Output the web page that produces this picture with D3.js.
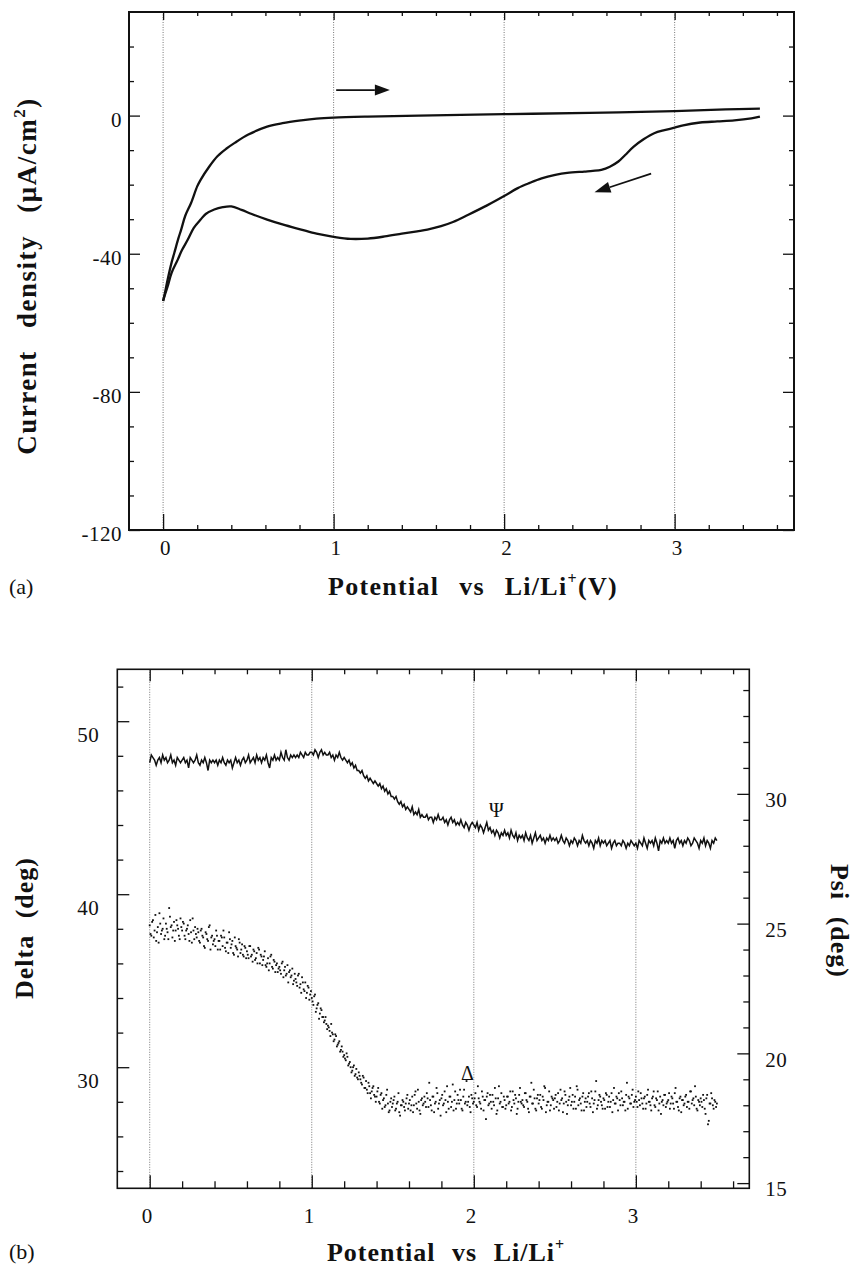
<!DOCTYPE html>
<html><head><meta charset="utf-8">
<script src="https://cdn.jsdelivr.net/npm/d3@7"></script>
<style>
body{margin:0;background:#fff}
svg{display:block}
text{font-family:"Liberation Serif","Times New Roman",Times,serif;fill:#111}
.lab{font-weight:bold;font-size:26px;letter-spacing:1px;word-spacing:9px}
.labY{font-weight:bold;font-size:27px;letter-spacing:1.5px;word-spacing:14px}
.labX{font-weight:bold;font-size:26px;letter-spacing:1.3px;word-spacing:12px}
.tk text{font-size:21px;letter-spacing:0.5px}
.pl{font-size:22px}
</style></head><body>
<svg id="c" width="855" height="1267"></svg>
<script>
// ---------- DATA ----------
// (a) cyclic voltammogram
const cvFwdV = [0,0.01,0.027,0.05,0.066,0.09,0.106,0.13,0.164,0.2,0.22,0.27,0.32,0.37,0.42,0.5,0.61,0.7,0.81,0.9,1.0,1.2,1.5,2.0,2.5,3.0,3.3,3.5];
const cvFwdI = [-53.7,-51.5,-47.4,-42.5,-39.7,-35.5,-33,-29,-25.3,-20.5,-18.6,-14.8,-11.7,-9.6,-7.9,-5.5,-3.2,-2.2,-1.4,-0.9,-0.6,-0.3,0,0.4,0.8,1.3,1.8,2.0];
const cvRevV = [3.5,3.45,3.35,3.25,3.15,3.05,3.0,2.94,2.88,2.82,2.76,2.71,2.67,2.62,2.57,2.52,2.47,2.37,2.3,2.22,2.15,2.08,2.0,1.9,1.79,1.7,1.63,1.55,1.49,1.4,1.3,1.2,1.1,1.0,0.9,0.81,0.7,0.61,0.52,0.46,0.4,0.35,0.3,0.25,0.22,0.18,0.145,0.11,0.086,0.05,0.027,0.01,0];
const cvRevI = [-0.3,-0.8,-1.4,-1.7,-2.0,-2.8,-3.5,-4.2,-5.1,-6.8,-9,-11.4,-13.3,-14.8,-15.7,-16,-16.2,-16.6,-17.2,-18.2,-19.5,-21,-23.3,-26,-28.7,-30.8,-32,-33,-33.5,-34.2,-35,-35.6,-35.7,-35.1,-34.2,-33,-31.5,-30.1,-28.5,-27.3,-26.3,-26.5,-27.2,-28.5,-30.1,-32.5,-35.9,-39,-41.7,-45.5,-49.4,-52,-53.7];
const topXTicks = [0,1,2,3];
const topXMinor = [0.2,0.4,0.6,0.8,1.2,1.4,1.6,1.8,2.2,2.4,2.6,2.8,3.2,3.4,3.6];
const topYTicks = [0,-40,-80,-120];
const topYMinor = [-110,-100,-90,-70,-60,-50,-30,-20,-10,10,20];
// (b) ellipsometry, readings every 0.01 V from 0 to 3.5 V
const psiValues = [
31.2,31.5,31.4,31.3,31.1,31.3,31.4,31.2,31.5,31.3,
31.4,31.2,31.3,31.5,31.2,31.3,31.1,31.4,31.3,31.2,
31.3,31.4,31.2,31.3,31.0,31.4,31.3,31.2,31.3,31.5,
31.2,31.1,31.3,31.2,31.4,31.2,30.9,31.3,31.2,31.3,
31.2,31.3,31.1,31.3,31.2,31.4,31.2,31.1,31.3,31.2,
31.3,31.0,31.2,31.4,31.2,31.3,31.1,31.3,31.4,31.2,
31.3,31.5,31.2,31.3,31.4,31.2,31.5,31.3,31.4,31.2,
31.4,31.3,31.5,31.2,31.0,31.4,31.3,31.5,31.3,31.4,
31.3,31.6,31.4,31.3,31.7,31.4,31.3,31.5,31.4,31.5,
31.4,31.5,31.4,31.6,31.5,31.4,31.6,31.5,31.5,31.6,
31.6,31.5,31.7,31.6,31.4,31.6,31.7,31.5,31.6,31.5,
31.5,31.6,31.4,31.5,31.3,31.5,31.4,31.6,31.4,31.3,
31.4,31.3,31.2,31.3,31.1,31.2,31.0,31.1,30.9,30.9,
30.8,30.9,30.7,30.6,30.7,30.5,30.6,30.5,30.4,30.5,
30.4,30.3,30.4,30.2,30.3,30.1,30.2,30.0,30.1,29.9,
29.9,29.8,29.9,29.7,29.6,29.7,29.5,29.6,29.4,29.5,
29.4,29.3,29.5,29.2,29.3,29.2,29.4,29.1,29.2,29.1,
29.1,29.2,29.0,29.1,29.1,28.9,29.1,29.0,29.2,29.0,
29.0,29.1,28.9,29.0,28.8,29.0,29.1,28.9,29.0,28.8,
28.9,28.8,29.0,28.8,28.7,28.9,28.8,28.6,28.8,28.9,
28.8,28.7,28.9,28.6,28.8,28.7,28.5,28.7,28.9,28.6,
28.7,28.5,28.6,28.4,28.6,28.5,28.3,28.5,28.4,28.6,
28.4,28.5,28.3,28.6,28.4,28.3,28.5,28.2,28.4,28.3,
28.4,28.2,28.5,28.3,28.2,28.4,28.1,28.3,28.5,28.2,
28.3,28.4,28.2,28.3,28.1,28.3,28.2,28.4,28.2,28.3,
28.2,28.3,28.1,28.2,28.4,28.2,28.1,28.3,28.2,28.0,
28.2,28.1,28.3,28.2,28.0,28.2,28.1,28.4,28.2,28.1,
28.2,28.0,28.2,28.1,27.9,28.2,28.1,28.3,28.0,28.2,
28.1,28.2,28.0,28.1,28.2,27.9,28.1,28.2,28.0,28.1,
28.1,28.0,28.2,28.1,27.9,28.1,28.0,28.2,28.1,28.0,
28.1,27.9,28.2,28.1,28.0,28.3,28.1,27.9,28.2,28.1,
28.2,28.0,28.3,28.1,27.8,28.2,28.1,28.3,28.1,28.2,
28.1,28.3,28.1,28.2,27.9,28.2,28.3,28.1,28.2,28.0,
28.2,28.1,28.3,28.2,28.0,28.1,28.3,28.2,28.1,27.9,
28.2,28.1,28.3,28.0,28.2,28.1,27.9,28.2,28.1,28.3,
28.2];
const deltaValues = [
38.2,37.6,38.5,37.9,37.3,38.1,38.9,37.7,38.0,37.4,
38.3,37.8,39.2,38.1,37.5,38.4,37.9,38.2,37.6,38.6,
37.9,38.3,37.4,38.0,37.7,38.5,37.2,37.9,38.1,37.5,
37.8,37.2,38.0,37.5,36.9,37.7,37.3,38.2,37.5,37.1,
37.4,37.9,36.8,37.3,37.6,37.0,37.5,36.7,37.2,37.8,
36.9,37.3,36.5,37.0,36.8,37.4,36.6,37.1,36.4,36.9,
36.7,36.3,37.0,36.5,36.8,36.2,36.6,36.9,36.0,36.4,
36.2,36.7,35.8,36.3,36.0,36.5,35.7,36.1,35.9,35.5,
35.8,35.4,36.1,35.6,35.3,35.9,35.5,35.2,35.7,35.0,
35.1,34.7,35.4,34.8,35.2,34.5,34.9,34.3,34.6,34.2,
34.0,33.6,34.2,33.4,33.7,33.1,33.3,32.9,32.7,32.5,
32.4,32.1,32.5,31.9,31.6,31.8,31.3,31.5,31.0,30.9,
30.7,30.4,30.6,30.2,30.0,29.8,30.1,29.6,29.4,29.7,
29.3,29.0,29.4,28.8,28.7,29.1,28.5,28.6,28.9,28.3,
28.3,28.8,27.9,28.5,28.1,27.7,28.4,27.9,27.5,28.2,
27.9,28.3,27.6,28.0,27.4,27.8,28.1,27.7,27.9,28.4,
27.9,27.5,28.3,27.8,28.6,27.6,28.0,27.3,28.2,27.9,
28.0,28.5,27.7,28.1,27.5,28.3,27.9,28.8,27.6,28.1,
28.2,27.8,28.6,27.4,28.0,28.3,27.7,29.0,28.1,27.6,
28.4,27.9,28.1,27.5,28.7,28.0,27.8,28.3,27.4,28.2,
28.0,28.5,27.7,28.2,27.9,28.6,27.5,28.1,28.3,27.8,
28.4,27.6,28.0,28.8,27.3,28.2,27.9,28.5,27.7,28.1,
27.8,28.3,28.0,27.5,28.6,27.9,28.2,27.6,28.4,28.0,
28.1,27.7,28.5,28.0,27.4,28.3,27.9,28.7,27.6,28.2,
27.9,28.4,27.6,28.1,28.8,27.8,28.0,27.5,28.3,28.1,
28.2,27.7,28.5,27.9,28.1,27.4,28.6,28.0,27.8,28.3,
27.8,28.4,28.0,27.6,28.7,28.1,27.9,28.3,27.5,28.2,
28.0,28.5,27.7,28.2,27.9,28.6,27.6,28.1,28.3,27.8,
28.2,27.6,28.4,28.0,27.7,28.5,28.1,27.9,28.3,27.5,
28.1,28.6,27.8,28.0,28.4,27.6,28.2,27.9,28.7,28.0,
28.3,27.7,28.1,28.5,27.9,28.2,27.6,28.4,28.0,27.8,
28.2,28.6,27.7,28.1,27.5,28.3,28.0,27.8,28.4,27.9,
28.1,27.6,28.3,27.9,28.5,28.0,27.7,28.2,27.4,28.1,
27.9,28.4,28.0,27.6,28.6,28.1,27.8,28.3,27.5,28.0,
28.2,27.7,28.1,27.3,28.4,26.9,27.9,28.2,27.6,28.0,
27.9];
// second Δ reading set, taken half-way between the first ones (0.005 … 3.495 V)
const deltaValuesB = [
37.7,38.4,37.5,38.8,37.8,37.2,38.3,37.9,38.6,37.6,
38.0,37.4,38.7,38.2,37.9,37.3,38.5,38.0,37.4,38.1,
38.4,37.6,37.9,38.2,37.3,37.8,38.6,37.4,37.7,38.0,
37.3,37.9,37.6,37.0,37.8,37.4,38.1,36.8,37.6,37.3,
37.0,37.6,37.3,36.8,37.5,37.9,36.9,37.2,36.6,37.4,
37.1,36.6,37.5,36.9,36.4,37.2,36.8,36.5,37.0,36.3,
36.5,37.0,36.4,36.1,36.7,36.3,36.0,36.8,36.5,35.9,
36.4,35.9,36.0,35.6,36.4,35.8,36.2,35.5,36.0,35.7,
35.6,36.0,35.2,35.8,35.4,34.9,35.6,35.3,34.8,35.4,
34.9,35.3,34.6,34.3,34.9,34.4,34.0,34.7,33.9,34.4,
33.8,34.1,33.2,33.6,32.8,33.4,32.9,32.6,32.9,32.2,
32.3,31.8,32.0,31.5,31.9,31.2,31.4,30.9,31.2,30.6,
30.5,30.8,30.1,30.3,29.7,30.0,29.5,29.9,29.3,29.5,
29.1,29.5,28.8,29.2,28.5,28.9,28.2,28.8,28.4,28.0,
28.6,28.0,28.4,27.6,28.2,27.8,28.7,27.4,28.0,27.7,
28.1,27.5,27.9,28.5,27.2,27.8,28.0,27.5,28.2,27.6,
28.1,27.8,27.4,28.4,27.9,28.7,27.5,28.1,27.8,28.3,
27.7,28.2,29.1,27.8,28.3,27.4,28.0,28.5,27.9,27.2,
28.4,27.9,28.1,28.9,27.6,28.3,28.0,27.5,28.6,27.9,
28.1,28.7,27.6,28.3,27.9,29.2,28.0,27.7,28.4,27.9,
28.2,27.8,28.9,28.0,27.6,28.3,28.1,27.0,28.5,27.9,
28.0,28.4,27.8,28.2,27.5,28.9,28.0,27.7,28.3,27.6,
28.3,27.9,28.6,27.7,28.1,28.4,27.3,28.0,28.8,27.9,
27.8,28.5,28.1,27.6,28.3,29.1,27.9,28.2,27.5,28.4,
28.1,27.7,28.3,28.9,27.4,28.0,28.6,27.8,28.2,27.6,
28.4,28.0,27.5,28.7,28.2,27.9,28.4,27.3,28.1,28.8,
28.0,27.6,28.3,28.9,27.8,28.2,27.5,28.5,28.0,27.7,
28.3,27.9,28.6,27.4,28.1,29.2,27.8,28.4,28.0,27.6,
28.1,28.5,27.7,28.3,28.0,27.4,28.8,27.9,28.2,28.5,
27.8,28.2,28.0,27.5,29.1,28.3,27.9,28.4,27.7,28.1,
28.0,28.6,27.8,28.2,27.6,28.3,27.9,28.7,28.0,27.5,
28.3,27.8,28.2,28.6,27.9,27.3,28.1,28.4,27.7,28.0,
28.5,27.9,28.2,27.6,28.8,28.0,27.5,28.3,28.1,27.8,
28.3,27.7,28.0,28.6,27.9,28.2,28.9,27.6,28.1,27.8,
28.0,28.4,27.6,28.2,26.7,27.9,28.5,27.8,28.1,27.7];
const potentialGrid = d3.range(psiValues.length).map(i => i / 100);
const potentialGridB = d3.range(deltaValuesB.length).map(i => i / 100 + 0.005);
const botXTicks = [0,1,2,3];
const botXMinor = [0.2,0.4,0.6,0.8,1.2,1.4,1.6,1.8,2.2,2.4,2.6,2.8,3.2,3.4,3.6];
const deltaTicks = [30,40,50];
const deltaMinor = [24,26,28,32,34,36,38,42,44,46,48,52];
const psiTicks = [15,20,25,30];
const psiMinor = [16,17,18,19,21,22,23,24,26,27,28,29,31,32,33,34];

// ---------- DRAW ----------
const svg = d3.select("#c");

function axis(gen, tx, ty, vals, size, pad, labels, shift) {
  const g = svg.append("g").attr("class","tk").attr("transform",`translate(${tx},${ty})`)
    .call(gen.tickValues(vals).tickSize(size).tickPadding(pad).tickFormat(labels ? (d => String(d)) : ""));
  g.select(".domain").remove();
  g.selectAll("line").attr("stroke","#111").attr("stroke-width",1.3);
  g.selectAll("text").attr("fill","#111").attr("font-family",null).attr("font-size",null);
  if (shift) g.selectAll("text").attr("transform",`translate(${shift[0]},${shift[1]})`);
  return g;
}
function grid(x, vals, y0, y1) {
  svg.append("g").selectAll("line").data(vals).join("line")
    .attr("x1",d=>x(d)).attr("x2",d=>x(d)).attr("y1",y0).attr("y2",y1)
    .attr("stroke","#777").attr("stroke-width",1).attr("stroke-dasharray","1,1.5");
}
function arrow(x0,y0,x1,y1,len,half) {
  const dx=x1-x0, dy=y1-y0, L=Math.hypot(dx,dy), ux=dx/L, uy=dy/L;
  const bx=x1-ux*len, by=y1-uy*len;
  svg.append("line").attr("x1",x0).attr("y1",y0).attr("x2",bx).attr("y2",by)
    .attr("stroke","#111").attr("stroke-width",1.8);
  svg.append("path").attr("d",`M${x1},${y1}L${bx-uy*half},${by+ux*half}L${bx+uy*half},${by-ux*half}Z`).attr("fill","#111");
}

// ===== Panel (a) =====
const xa = d3.scaleLinear([-0.2,3.7],[129,794]);
const ya = d3.scaleLinear([-120,30],[530,12]);
grid(xa, topXTicks, 12, 530);
axis(d3.axisLeft(ya), 129, 0, topYTicks, -11, 7, true, [0,4]);
axis(d3.axisLeft(ya), 129, 0, topYMinor, -5, 7, false);
axis(d3.axisRight(ya), 794, 0, topYTicks, -11, 0, false);
axis(d3.axisRight(ya), 794, 0, topYMinor, -5, 0, false);
axis(d3.axisBottom(xa), 0, 530, topXTicks, -16, 10, true, [2,0]);
axis(d3.axisBottom(xa), 0, 530, topXMinor, -5, 10, false);
axis(d3.axisTop(xa), 0, 12, topXTicks, -8, 0, false);
axis(d3.axisTop(xa), 0, 12, topXMinor, -4, 0, false);
svg.append("rect").attr("x",129).attr("y",12).attr("width",665).attr("height",518)
  .attr("fill","none").attr("stroke","#111").attr("stroke-width",2);

const cvLine = d3.line().x(d=>xa(d[0])).y(d=>ya(d[1])).curve(d3.curveCatmullRom.alpha(0.5));
svg.append("path").datum(cvFwdV.map((v,i)=>[v,cvFwdI[i]])).attr("d",cvLine)
  .attr("fill","none").attr("stroke","#111").attr("stroke-width",2.3);
svg.append("path").datum(cvRevV.map((v,i)=>[v,cvRevI[i]])).attr("d",cvLine)
  .attr("fill","none").attr("stroke","#111").attr("stroke-width",2.3);

arrow(xa(1.015), ya(7.4), xa(1.33), ya(7.4), 15, 5.5);
arrow(xa(2.862), ya(-16.8), xa(2.53), ya(-22.2), 16, 5.5);

svg.append("text").attr("class","labY").attr("text-anchor","middle")
  .attr("transform","translate(36,276) rotate(-90)")
  .html('Current density (μA/cm<tspan font-size="17" dy="-11">2</tspan><tspan dy="11">)</tspan>');
svg.append("text").attr("class","labX").attr("text-anchor","middle").attr("x",473).attr("y",595)
  .html('Potential vs Li/Li<tspan font-size="16" dy="-11">+</tspan><tspan dy="11">(V)</tspan>');
svg.append("text").attr("class","pl").attr("x",9).attr("y",594).text("(a)");

// ===== Panel (b) =====
const xb = d3.scaleLinear([-0.2,3.7],[117.3,749.3]);
const yD = d3.scaleLinear([23,53],[1188.3,669.3]);
const yP = d3.scaleLinear([14.8,34.8],[1188.3,669.3]);
grid(xb, botXTicks, 669.3, 1188.3);
axis(d3.axisLeft(yD), 117.3, 0, deltaTicks, -12, 18, true, [0,14]);
axis(d3.axisLeft(yD), 117.3, 0, deltaMinor, -6, 18, false);
axis(d3.axisRight(yP), 749.3, 0, psiTicks, -12, 16, true, [0,6]);
axis(d3.axisRight(yP), 749.3, 0, psiMinor, -6, 16, false);
axis(d3.axisBottom(xb), 0, 1188.3, botXTicks, -13, 20, true, [-3,0]);
axis(d3.axisBottom(xb), 0, 1188.3, botXMinor, -7, 20, false);
axis(d3.axisTop(xb), 0, 669.3, botXTicks, -12, 0, false);
axis(d3.axisTop(xb), 0, 669.3, botXMinor, -5, 0, false);
svg.append("rect").attr("x",117.3).attr("y",669.3).attr("width",632).attr("height",519)
  .attr("fill","none").attr("stroke","#111").attr("stroke-width",1.6);

svg.append("path").datum(potentialGrid.map((v,i)=>[v,psiValues[i]]))
  .attr("d", d3.line().x(d=>xb(d[0])).y(d=>yP(d[1])))
  .attr("fill","none").attr("stroke","#111").attr("stroke-width",1.5);
const deltaPts = potentialGrid.map((v,i)=>[v,deltaValues[i]])
  .concat(potentialGridB.map((v,i)=>[v,deltaValuesB[i]]));
svg.append("g").selectAll("rect").data(deltaPts).join("rect")
  .attr("x",d=>xb(d[0])-0.9).attr("y",d=>yD(d[1])-0.9).attr("width",1.8).attr("height",1.8).attr("fill","#111");

svg.append("text").attr("x",xb(2.14)).attr("y",yP(29.38)+7).attr("text-anchor","middle")
  .attr("font-size",20).text("Ψ");
svg.append("text").attr("x",xb(1.96)).attr("y",yD(29.67)+7).attr("text-anchor","middle")
  .attr("font-size",20).text("Δ");

svg.append("text").attr("class","lab").attr("text-anchor","middle")
  .attr("transform","translate(33,928) rotate(-90)").text("Delta (deg)");
svg.append("text").attr("class","lab").attr("text-anchor","middle")
  .attr("transform","translate(831,921) rotate(90)").text("Psi (deg)");
svg.append("text").attr("class","lab").attr("text-anchor","middle").attr("x",446).attr("y",1261)
  .html('Potential vs Li/Li<tspan font-size="16" dy="-11">+</tspan>');
svg.append("text").attr("class","pl").attr("x",9).attr("y",1259).text("(b)");
</script>
</body></html>
